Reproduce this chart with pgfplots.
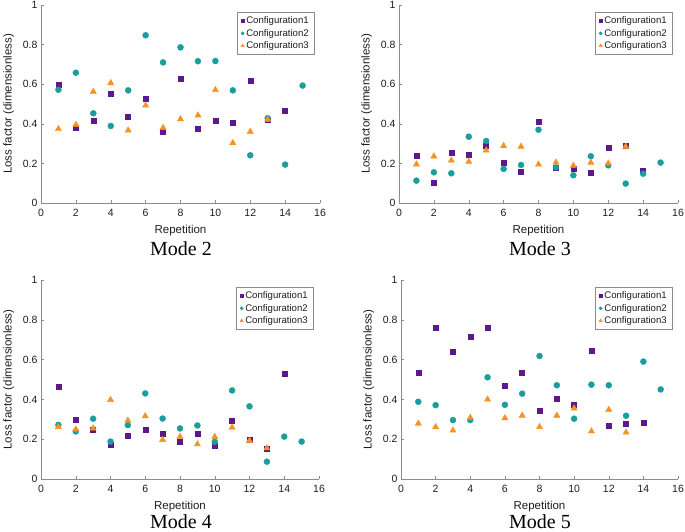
\documentclass[border=0pt]{standalone}
\usepackage{pgfplots}
\pgfplotsset{compat=1.18}
\usepackage{fontspec}
\setmainfont{Liberation Serif}
\setsansfont{Liberation Sans}
\definecolor{cpurple}{RGB}{92,24,140}
\definecolor{cteal}{RGB}{24,158,156}
\definecolor{corange}{RGB}{247,147,32}
\definecolor{axgray}{RGB}{140,140,140}
\definecolor{txtgray}{RGB}{30,30,30}
\pgfplotsset{
  panel/.style={
    scale only axis, width=279pt, height=198pt,
    xmin=0, xmax=16, ymin=0, ymax=1,
    xtick={0,2,4,6,8,10,12,14,16},
    ytick={0,0.2,0.4,0.6,0.8,1},
    yticklabels={0,0.2,0.4,0.6,0.8,1},
    axis lines=left,
    axis line style={-, axgray, line width=0.6pt},
    tick align=inside, major tick length=2.5pt,
    tick style={axgray, line width=0.5pt},
    /pgf/number format/assume math mode=true,
    ticklabel style={font=\sffamily\fontsize{10.5}{12}\selectfont, text=txtgray},
    label style={font=\sffamily\fontsize{11.5}{13}\selectfont, text=txtgray},
    xlabel={Repetition},
    ylabel={Loss factor (dimensionless)},
    xlabel style={yshift=-1pt},
    ylabel style={yshift=2pt},
    xticklabel style={yshift=-3pt},
    legend style={at={(0.98,0.965)}, anchor=north east, draw=axgray,
      font=\sffamily\fontsize{9.6}{10}\selectfont, text=txtgray,
      row sep=0pt, inner xsep=3.5pt, inner ysep=2.5pt, cells={anchor=west}},
    legend image code/.code={\draw[#1] plot coordinates {(0.3cm,0cm)};},
    c1/.style={only marks, mark=square*, mark size=2.5pt, color=cpurple,
      legend image post style={mark size=1.3pt}},
    c2/.style={only marks, mark=*, mark size=3pt, color=cteal,
      legend image post style={mark size=1.6pt}},
    c3/.style={only marks, mark=triangle*, mark size=3.6pt, color=corange,
      legend image post style={mark size=1.9pt}},
  }
}
\begin{document}
\begin{tikzpicture}[x=1pt,y=1pt]
\useasboundingbox (0,0) rectangle (685,532);
% Mode 2
\begin{axis}[panel, at={(41pt,329pt)}, anchor=south west]
\addplot[c1] coordinates {(1,0.598)(2,0.382)(3,0.416)(4,0.551)(5,0.438)(6,0.527)(7,0.362)(8,0.630)(9,0.374)(10,0.418)(11,0.407)(12,0.616)(13,0.420)(14,0.466)};
\addplot[c2] coordinates {(1,0.572)(2,0.658)(3,0.453)(4,0.389)(5,0.569)(6,0.847)(7,0.710)(8,0.786)(9,0.716)(10,0.717)(11,0.569)(12,0.241)(13,0.428)(14,0.194)(15,0.593)};
\addplot[c3] coordinates {(1,0.374)(2,0.395)(3,0.562)(4,0.606)(5,0.367)(6,0.493)(7,0.380)(8,0.424)(9,0.443)(10,0.571)(11,0.303)(12,0.360)(13,0.421)};
\legend{Configuration1,Configuration2,Configuration3}
\end{axis}
% Mode 3
\begin{axis}[panel, at={(399pt,329pt)}, anchor=south west]
\addplot[c1] coordinates {(1,0.241)(2,0.103)(3,0.254)(4,0.244)(5,0.290)(6,0.205)(7,0.160)(8,0.412)(9,0.177)(10,0.172)(11,0.152)(12,0.279)(13,0.288)(14,0.165)};
\addplot[c2] coordinates {(1,0.113)(2,0.155)(3,0.150)(4,0.335)(5,0.313)(6,0.172)(7,0.192)(8,0.370)(9,0.180)(10,0.140)(11,0.236)(12,0.190)(13,0.098)(14,0.148)(15,0.204)};
\addplot[c3] coordinates {(1,0.195)(2,0.236)(3,0.215)(4,0.209)(5,0.266)(6,0.288)(7,0.285)(8,0.195)(9,0.205)(10,0.189)(11,0.204)(12,0.200)(13,0.285)};
\legend{Configuration1,Configuration2,Configuration3}
\end{axis}
% Mode 4
\begin{axis}[panel, at={(41pt,53pt)}, anchor=south west, width=278pt, height=199pt]
\addplot[c1] coordinates {(1,0.462)(2,0.297)(3,0.247)(4,0.173)(5,0.220)(6,0.247)(7,0.227)(8,0.188)(9,0.227)(10,0.168)(11,0.292)(12,0.198)(13,0.153)(14,0.528)};
\addplot[c2] coordinates {(1,0.272)(2,0.239)(3,0.303)(4,0.188)(5,0.271)(6,0.430)(7,0.304)(8,0.254)(9,0.269)(10,0.187)(11,0.445)(12,0.365)(13,0.087)(14,0.213)(15,0.188)};
\addplot[c3] coordinates {(1,0.262)(2,0.249)(3,0.255)(4,0.398)(5,0.294)(6,0.316)(7,0.197)(8,0.212)(9,0.175)(10,0.212)(11,0.259)(12,0.192)(13,0.155)};
\legend{Configuration1,Configuration2,Configuration3}
\end{axis}
% Mode 5
\begin{axis}[panel, at={(401pt,53pt)}, anchor=south west, width=277pt, height=199pt]
\addplot[c1] coordinates {(1,0.536)(2,0.761)(3,0.640)(4,0.716)(5,0.761)(6,0.467)(7,0.534)(8,0.341)(9,0.403)(10,0.373)(11,0.645)(12,0.267)(13,0.276)(14,0.282)};
\addplot[c2] coordinates {(1,0.388)(2,0.371)(3,0.296)(4,0.296)(5,0.511)(6,0.373)(7,0.429)(8,0.618)(9,0.471)(10,0.303)(11,0.474)(12,0.471)(13,0.318)(14,0.590)(15,0.450)};
\addplot[c3] coordinates {(1,0.279)(2,0.261)(3,0.244)(4,0.308)(5,0.400)(6,0.306)(7,0.319)(8,0.262)(9,0.319)(10,0.355)(11,0.240)(12,0.348)(13,0.234)};
\legend{Configuration1,Configuration2,Configuration3}
\end{axis}
\node[anchor=base, font=\fontsize{20}{22}\selectfont] at (181,276) {Mode 2};
\node[anchor=base, font=\fontsize{20}{22}\selectfont] at (540,276) {Mode 3};
\node[anchor=base, font=\fontsize{20}{22}\selectfont] at (181,3) {Mode 4};
\node[anchor=base, font=\fontsize{20}{22}\selectfont] at (540,3) {Mode 5};
\end{tikzpicture}
\end{document}
